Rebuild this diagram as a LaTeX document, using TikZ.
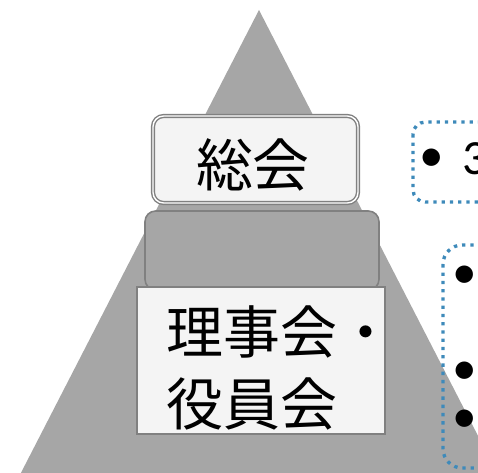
\documentclass[tikz,border=0pt]{standalone}
\usepackage{fontspec}
\setmainfont{Carlito}
\newfontfamily\jpfont{Noto Sans CJK JP}
\usetikzlibrary{positioning}
\definecolor{pyramid}{RGB}{166,166,166}
\definecolor{boxline}{RGB}{128,128,128}
\definecolor{boxfill}{RGB}{244,244,244}
\definecolor{dotblue}{RGB}{62,138,186}

\begin{document}
\begin{tikzpicture}[
            x=0.02cm, y=-0.02cm,
            layer/.style={rectangle, draw=boxline, line width=1.1pt, fill=boxfill, inner sep=0pt},
            jp/.style={font=\jpfont\fontsize{32.4}{40.8}\selectfont, inner sep=0pt},
            note/.style={draw=dotblue, line width=1.9pt, dash pattern=on 1.9pt off 2.8pt},
            bullet/.style={font=\fontsize{28}{30}\selectfont, inner sep=0pt}
        ]
        \useasboundingbox (0,0) rectangle (478,473);
        \clip (0,0) rectangle (478,473);

        % Pyramid
        \fill[pyramid] (259,10) -- (511,500) -- (7,500) -- cycle;

        % Layers
        \node[layer, rounded corners=6pt, double=white, double distance=0.8pt, line width=0.8pt,
              minimum width=4.1cm, minimum height=1.74cm] (generalbox) at (255.5,159.5) {};
        \node[jp] (general) at (253,165) {総会};

        \node[layer, rounded corners=6pt, fill=pyramid, line width=0.9pt,
              minimum width=4.68cm, minimum height=1.58cm] (midbox) at (262,250.5) {};

        \node[layer, minimum width=4.96cm, minimum height=2.94cm] (boardbox) at (261,360.5) {};
        \node[jp, anchor=west, align=left] (board) at (166,368) {理事会・\\役員会};

        % Notes
        \draw[note, rounded corners=7pt] (413,122) rectangle (530,202);
        \node[bullet] (b1) at (432,160) {\textbullet};
        \node[bullet, anchor=base west] (n1) at (462,175) {3};

        \draw[note, rounded corners=11pt] (443,245) rectangle (530,468);
        \node[bullet] (b2) at (465,277) {\textbullet};
        \node[bullet] (b3) at (465,373) {\textbullet};
        \node[bullet] (b4) at (465,421) {\textbullet};
    \end{tikzpicture}
\end{document}
